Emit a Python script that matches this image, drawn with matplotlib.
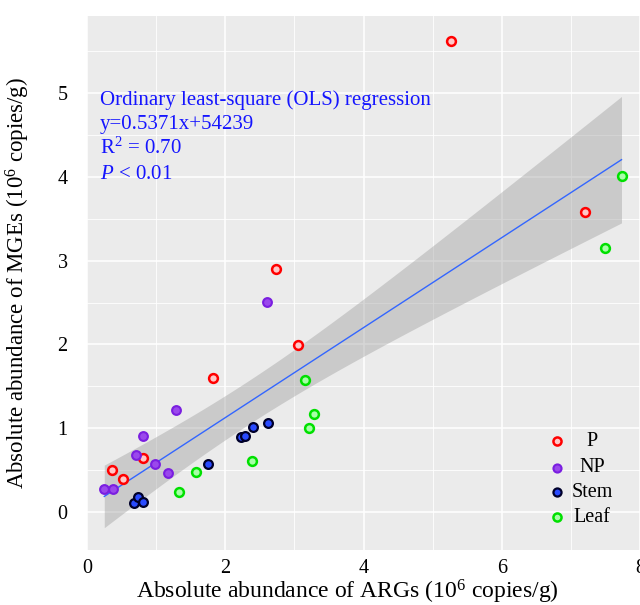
import numpy as np
import matplotlib
matplotlib.use("Agg")
import matplotlib.pyplot as plt

plt.rcParams['font.family'] = ['Liberation Serif', 'DejaVu Serif']
plt.rcParams['mathtext.fontset'] = 'custom'
plt.rcParams['mathtext.rm'] = 'Liberation Serif'
plt.rcParams['mathtext.it'] = 'Liberation Serif:italic'

# ---- data (10^6 copies/g) ----
groups = ["P", "NP", "Stem", "Leaf"]
p_x = [5.26, 2.73, 3.05, 1.82, 0.81, 0.52, 0.36, 7.20]
p_y = [5.62, 2.90, 1.99, 1.60, 0.64, 0.39, 0.50, 3.58]
np_x = [0.25, 0.37, 0.71, 0.81, 0.98, 1.17, 1.29, 2.60]
np_y = [0.27, 0.27, 0.68, 0.91, 0.57, 0.47, 1.22, 2.51]
stem_x = [0.68, 0.74, 0.81, 1.75, 2.23, 2.28, 2.40, 2.62]
stem_y = [0.11, 0.18, 0.12, 0.57, 0.89, 0.91, 1.01, 1.06]
leaf_x = [1.33, 1.58, 2.39, 3.21, 3.29, 3.15, 7.73, 7.49]
leaf_y = [0.24, 0.48, 0.61, 1.00, 1.17, 1.58, 4.01, 3.15]

xs = {"P": p_x, "NP": np_x, "Stem": stem_x, "Leaf": leaf_x}
ys = {"P": p_y, "NP": np_y, "Stem": stem_y, "Leaf": leaf_y}
styles = {
    "P":    dict(fc="#FFC8C8", ec="#FF0000", lw=1.8),
    "NP":   dict(fc="#9A48EC", ec="#7A1EE0", lw=1.5),
    "Stem": dict(fc="#2A4BFF", ec="#00002A", lw=1.6),
    "Leaf": dict(fc="#A8FFA8", ec="#00E000", lw=1.8),
}

ann_lines = ["Ordinary least-square (OLS) regression",
             "y=0.5371x+54239",
             "R$^2$ = 0.70",
             "$P$ < 0.01"]

fig = plt.figure(figsize=(6.4, 6.05), dpi=100)
W, H = 640, 605
ax = fig.add_axes([87 / W, 55 / H, (654 - 87) / W, 534 / H])
ax.set_facecolor("#EBEBEB")
for s in ax.spines.values():
    s.set_visible(False)

ax.set_xlim(0, 8.2)
ax.set_ylim(-0.453, 5.919)
ax.set_xticks([0, 2, 4, 6, 8])
ax.set_yticks([0, 1, 2, 3, 4, 5])
ax.set_xticks([1, 3, 5, 7], minor=True)
ax.set_yticks([0.5, 1.5, 2.5, 3.5, 4.5, 5.5], minor=True)
ax.grid(which="major", color="white", lw=1.1)
ax.grid(which="minor", color="white", lw=0.6)
ax.set_axisbelow(True)
ax.tick_params(which="both", length=0, labelsize=14.5, colors="black")
ax.tick_params(axis="y", pad=14)
ax.tick_params(axis="x", pad=6.5)

# regression + 95% CI
allx = np.concatenate([np.array(xs[g]) for g in groups])
ally = np.concatenate([np.array(ys[g]) for g in groups])
n = len(allx)
b, a = np.polyfit(allx, ally, 1)
resid = ally - (a + b * allx)
s_err = np.sqrt(np.sum(resid ** 2) / (n - 2))
xbar = allx.mean()
sxx = np.sum((allx - xbar) ** 2)
tval = 2.0423
xg = np.linspace(allx.min(), allx.max(), 100)
yg = a + b * xg
se = s_err * np.sqrt(1 / n + (xg - xbar) ** 2 / sxx)
ax.fill_between(xg, yg - tval * se, yg + tval * se, color="#999999", alpha=0.4, lw=0, zorder=2)
ax.plot(xg, yg, color="#3366FF", lw=1.0, zorder=3)

for g in groups:
    st = styles[g]
    ax.scatter(xs[g], ys[g], s=40, facecolor=st["fc"], edgecolor=st["ec"],
               linewidths=st["lw"], zorder=4)

# annotation
base_y = [0.8333, 0.7884, 0.7416, 0.6948]
for txt, yy in zip(ann_lines, base_y):
    ax.text(0.0229, yy, txt, transform=ax.transAxes, color="#1515FF",
            fontsize=15, ha="left", va="baseline")

# legend (manual, centered text)
leg_marker_y = [0.2041, 0.1536, 0.1086, 0.0618]
leg_text_y = [0.1948, 0.1460, 0.0993, 0.0524]
for g, my, ty in zip(groups, leg_marker_y, leg_text_y):
    st = styles[g]
    ax.scatter([0.829], [my], s=34, facecolor=st["fc"], edgecolor=st["ec"],
               linewidths=st["lw"], transform=ax.transAxes, zorder=5, clip_on=False)
    ax.text(0.8907, ty, g, transform=ax.transAxes, fontsize=14.5,
            ha="center", va="baseline")

ax.set_xlabel("Absolute abundance of ARGs (10$^6$ copies/g)", fontsize=17)
ax.set_ylabel("Absolute abundance of MGEs (10$^6$ copies/g)", fontsize=16.5)
ax.xaxis.set_label_coords(0.4586, -0.0525)
ax.yaxis.set_label_coords(-0.097, 0.5)

fig.savefig("out.png", dpi=100)
